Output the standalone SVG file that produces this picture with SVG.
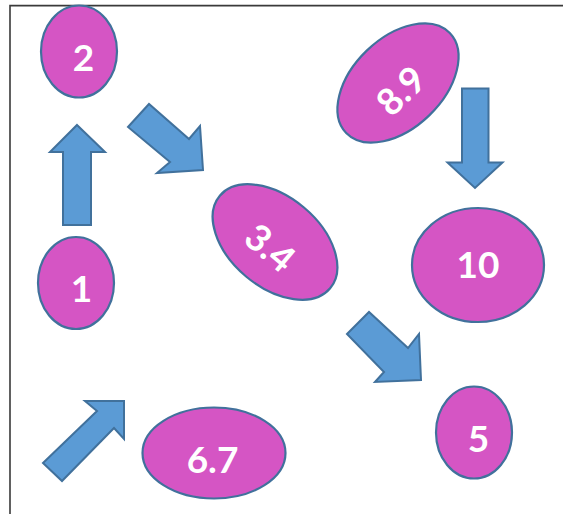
<svg xmlns="http://www.w3.org/2000/svg" width="563" height="514" viewBox="0 0 563 514">
<style>
.node{fill:#D555C4;stroke:#41719C;stroke-width:2.2}
.lbl{fill:#FFFFFF;font-family:Lato,"Open Sans","Liberation Sans",sans-serif;font-weight:bold;font-size:37px;text-anchor:middle}
.arr{fill:#5B9BD5;stroke:#41719C;stroke-width:2;stroke-linejoin:miter}
.frame{fill:none;stroke:#3A3A3A;stroke-width:1.6}
</style>
<rect width="563" height="514" fill="#FFFFFF"/>
<path class="frame" d="M10,514 V5.6 H563"/>
<g id="connectors">
<polygon class="arr" points="77,125 105,152 91,152 91,225 63,225 63,152 50,152"/>
<polygon class="arr" points="128,127 149,104 189,139 200,126 203,170 157,173 170,162"/>
<polygon class="arr" points="462,88.5 488.5,88.5 488.5,162.5 502.5,162.5 475,188 447.5,162.5 462,162.5"/>
<polygon class="arr" points="347,334 369,312 408,348 419,334 421,380 375,382 384,372"/>
<polygon class="arr" points="43,463 97,411 85,401 124,401 124,439 114,428 62,481"/>
</g>
<g id="n2">
<ellipse class="node" cx="79" cy="51.5" rx="38" ry="46"/>
<text class="lbl" x="83.5" y="71">2</text>
</g>
<g id="n1">
<ellipse class="node" cx="76" cy="283" rx="38" ry="46"/>
<text class="lbl" x="81.5" y="301.5">1</text>
</g>
<g id="n89">
<ellipse class="node" cx="0" cy="0" rx="72" ry="45" transform="translate(398,83) rotate(-44)"/>
<text class="lbl" x="0" y="13" transform="translate(401,91) rotate(-44)">8.9</text>
</g>
<g id="n34">
<ellipse class="node" cx="0" cy="0" rx="72" ry="45" transform="translate(275,242) rotate(40)"/>
<text class="lbl" x="0" y="13" transform="translate(270,248) rotate(40)">3.4</text>
</g>
<g id="n10">
<ellipse class="node" cx="478" cy="265" rx="66" ry="57"/>
<text class="lbl" x="478" y="277.5">10</text>
</g>
<g id="n5">
<ellipse class="node" cx="474" cy="432.5" rx="38" ry="46"/>
<text class="lbl" x="478.5" y="452">5</text>
</g>
<g id="n67">
<ellipse class="node" cx="214" cy="453" rx="71.5" ry="45.5"/>
<text class="lbl" x="212.5" y="473">6.7</text>
</g>
</svg>
